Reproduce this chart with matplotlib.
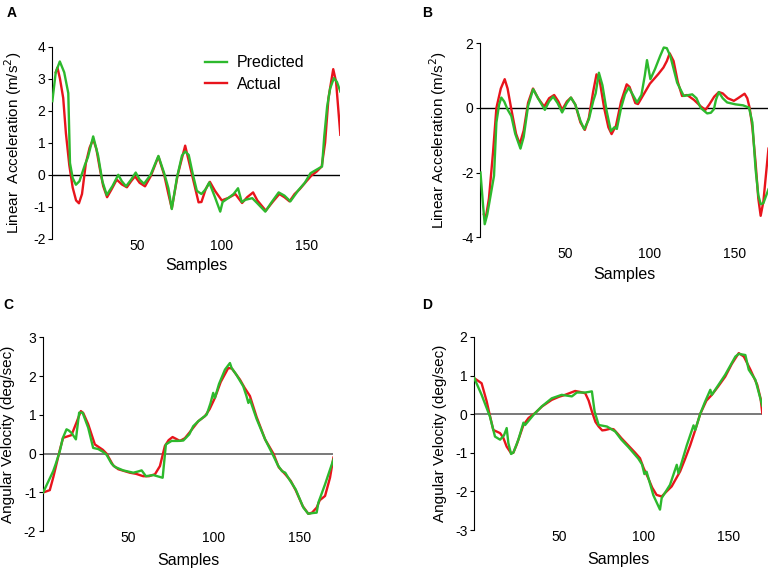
import matplotlib
matplotlib.use('Agg')
import matplotlib.pyplot as plt

plt.rcParams['font.family'] = ['Liberation Sans', 'DejaVu Sans']
plt.rcParams['axes.unicode_minus'] = False

# Panel A - linear acceleration, first trial
a_act_x = [2, 3, 4.5, 6.4, 8, 10, 12, 14, 15.7, 17.5, 19.8, 22, 24.1, 26, 28, 30, 32.3, 35, 38, 41, 44,
           46.5, 48.8, 51.5, 54.7, 58, 62.6, 66, 68.5, 70.5, 74, 78.4, 82, 86.3, 88, 90.5, 93, 96, 100,
           104, 108, 112, 115, 118.5, 121, 126, 130, 134, 137, 140, 143, 146, 150, 153, 156, 159, 161,
           163, 165.8, 167.5, 170]
a_act_y = [3.2, 3.35, 3.0, 2.4, 1.3, 0.3, -0.4, -0.8, -0.89, -0.6, 0.37, 0.85, 1.11, 0.8, 0.2, -0.35,
           -0.7, -0.45, -0.15, -0.3, -0.39, -0.2, -0.05, -0.25, -0.36, -0.05, 0.57, 0.0, -0.6, -1.05, 0.0,
           0.91, 0.1, -0.86, -0.85, -0.45, -0.22, -0.5, -0.8, -0.72, -0.6, -0.88, -0.7, -0.55, -0.8,
           -1.12, -0.85, -0.6, -0.7, -0.83, -0.6, -0.45, -0.2, -0.02, 0.1, 0.26, 1.0, 2.4, 3.3, 2.9, 1.25]
a_pred_x = [0, 2, 4.4, 7, 9.4, 10.4, 12, 13.9, 16, 19.2, 21, 24.1, 27, 29.5, 32.1, 35.5, 38.9, 41, 43.5,
            46.5, 49.2, 51.5, 54.1, 58, 62.6, 66, 68.5, 70.5, 73.5, 76.5, 78.4, 80.5, 83, 85.3, 88, 90.5,
            92.6, 96, 99.1, 100.5, 104, 107, 109.6, 111.8, 114, 118, 121, 125.7, 129.5, 133.6, 137,
            140.5, 145.4, 149, 152.4, 155.3, 159.2, 160.5, 162.2, 164, 166.2, 168, 170]
a_pred_y = [2.3, 3.2, 3.54, 3.2, 2.55, 0.37, -0.1, -0.31, -0.2, 0.31, 0.55, 1.2, 0.6, -0.2, -0.63,
            -0.35, 0.0, -0.2, -0.36, -0.15, 0.07, -0.15, -0.28, 0.0, 0.59, 0.05, -0.42, -1.07, -0.1, 0.6,
            0.73, 0.62, 0.0, -0.5, -0.6, -0.45, -0.24, -0.7, -1.15, -0.85, -0.72, -0.6, -0.42, -0.85,
            -0.78, -0.73, -0.89, -1.15, -0.85, -0.55, -0.65, -0.83, -0.47, -0.25, 0.05, 0.14, 0.26, 1.2,
            2.13, 2.7, 3.02, 2.9, 2.6]

# Panel B - linear acceleration, second trial
b_act_x = [2, 3, 5, 7.4, 9.4, 12, 14.3, 16, 18.2, 21, 23.2, 25.5, 28.1, 31, 34, 37.6, 40.5, 43.5, 46,
           48.2, 51, 53.4, 56, 59, 61.6, 64, 66.5, 68.5, 70.5, 73, 75.5, 77.4, 80, 83, 86.3, 88, 91.4,
           93, 95, 100, 105, 108, 110, 111.7, 114, 116.5, 119, 122, 126, 130, 132.8, 135, 138, 140.7,
           143, 146, 149.6, 152, 155.9, 157.5, 158.9, 160.5, 162.4, 164, 165.4, 167, 170]
b_act_y = [-3.3, -3.45, -2.8, -1.38, 0.0, 0.6, 0.89, 0.6, -0.04, -0.8, -1.12, -0.7, 0.16, 0.6, 0.3,
           0.04, 0.3, 0.4, 0.2, -0.06, 0.2, 0.32, 0.1, -0.45, -0.68, -0.3, 0.5, 1.04, 0.8, 0.0, -0.6,
           -0.81, -0.55, 0.2, 0.73, 0.65, 0.15, 0.12, 0.3, 0.75, 1.05, 1.25, 1.45, 1.69, 1.45, 0.8, 0.37,
           0.4, 0.25, 0.05, -0.06, 0.1, 0.35, 0.49, 0.45, 0.3, 0.22, 0.3, 0.44, 0.3, 0.0, -0.6, -1.7,
           -2.8, -3.34, -2.9, -1.26]
b_pred_x = [0, 1.5, 2.5, 4, 6, 8, 9.4, 11, 12.3, 14, 16, 18.2, 20.5, 23.6, 25.5, 28.1, 31.1, 34, 38,
            40.5, 42.9, 45.5, 48.2, 51, 53.4, 56, 59, 61.2, 64, 66.6, 68, 69.9, 72, 74.5, 77, 79, 80.5,
            83, 85.3, 87.5, 90, 92.4, 95, 97, 98.3, 100.3, 103, 106, 108.2, 110, 112.1, 116.1, 120, 123,
            125, 127.5, 130, 133.8, 136, 137.8, 139, 140.7, 143, 145.6, 150.6, 155, 158.5, 160.5, 162.4,
            164, 165.4, 167, 170]
b_pred_y = [-2.0, -3.0, -3.6, -3.3, -2.7, -2.1, -0.45, 0.1, 0.32, 0.2, -0.05, -0.25, -0.8, -1.26, -0.9,
            0.06, 0.58, 0.3, -0.06, 0.2, 0.35, 0.15, -0.14, 0.15, 0.32, 0.1, -0.4, -0.66, -0.35, 0.22,
            0.45, 1.09, 0.7, -0.1, -0.72, -0.6, -0.65, 0.0, 0.42, 0.63, 0.4, 0.17, 0.4, 1.0, 1.48, 0.89,
            1.2, 1.6, 1.87, 1.85, 1.6, 0.78, 0.37, 0.4, 0.42, 0.3, 0.0, -0.17, -0.15, -0.04, 0.25, 0.49,
            0.3, 0.17, 0.11, 0.08, 0.01, -0.45, -1.9, -2.7, -2.98, -2.95, -2.52]

# Panel C - angular velocity, first trial
c_act_x = [0, 3.9, 6, 7.8, 9.8, 11.7, 16.6, 19.5, 22.1, 23.5, 26.4, 30.3, 35, 37.2, 41, 44, 50.8, 54.5,
           58.6, 62, 65.5, 68.4, 71.3, 73.5, 75.8, 78, 80.1, 83, 85.6, 90.9, 94.8, 97.5, 100.6, 104,
           108.4, 110.5, 115.3, 118, 121.1, 125, 130, 134.9, 138, 141.8, 145, 148, 152, 155.3, 157.5,
           160.2, 162, 165.1, 168, 170]
c_act_y = [-1.0, -0.94, -0.6, -0.27, 0.1, 0.41, 0.48, 0.8, 1.1, 1.05, 0.76, 0.24, 0.1, 0.0, -0.3, -0.4,
           -0.49, -0.52, -0.58, -0.58, -0.53, -0.32, 0.2, 0.35, 0.43, 0.38, 0.33, 0.4, 0.54, 0.84, 0.97,
           1.15, 1.44, 1.85, 2.21, 2.2, 1.91, 1.7, 1.49, 0.95, 0.37, 0.0, -0.35, -0.53, -0.7, -0.95,
           -1.35, -1.55, -1.52, -1.39, -1.2, -1.09, -0.62, -0.1]
c_pred_x = [0, 3, 5.9, 7.5, 9.8, 11.5, 13.7, 15, 16.6, 19.2, 21.1, 23.1, 26.4, 29.3, 32.3, 35, 37.2, 40,
            42, 46.9, 52.8, 55.5, 57.7, 60.2, 64.5, 70, 71.9, 75.2, 79, 82.1, 85.6, 87.9, 90.9, 95.8, 98,
            99.6, 100.6, 103, 106.5, 109.4, 110.4, 113, 117.2, 119, 120.2, 121.1, 125, 130, 134.9, 137.5,
            139.9, 141.8, 144, 147.9, 152.4, 155.3, 158, 160.2, 161.2, 165.1, 170]
c_pred_y = [-1.0, -0.72, -0.45, -0.25, 0.07, 0.4, 0.63, 0.6, 0.54, 0.37, 1.06, 1.06, 0.67, 0.15, 0.12,
            0.05, -0.03, -0.25, -0.34, -0.43, -0.49, -0.46, -0.43, -0.58, -0.55, -0.62, 0.24, 0.33, 0.33,
            0.34, 0.5, 0.71, 0.84, 1.01, 1.3, 1.57, 1.44, 1.8, 2.17, 2.34, 2.21, 2.05, 1.74, 1.5, 1.31,
            1.4, 0.9, 0.37, -0.06, -0.3, -0.45, -0.49, -0.65, -0.92, -1.39, -1.55, -1.53, -1.52, -1.26,
            -0.79, -0.15]

# Panel D - angular velocity, second trial
d_act_x = [0, 4.3, 7.3, 9, 11.2, 15.2, 17, 19.1, 21.7, 23, 25, 29, 32, 35.9, 40, 45.7, 50, 53.6, 59.5,
           63, 65.5, 67.5, 69.4, 71.5, 73.4, 75.5, 77.3, 80, 82.2, 84.5, 86.8, 90.9, 95, 97.8, 100,
           102.7, 105, 107.6, 110.6, 113.5, 116.5, 121.5, 124.5, 127.4, 130.5, 133.3, 137, 140.2, 144,
           148.1, 152, 156.1, 159.1, 163, 167, 169, 170]
d_act_y = [0.93, 0.8, 0.33, 0.0, -0.41, -0.49, -0.6, -0.84, -1.01, -1.0, -0.79, -0.28, -0.1, 0.03, 0.2,
           0.37, 0.45, 0.5, 0.6, 0.57, 0.54, 0.35, 0.07, -0.2, -0.32, -0.42, -0.41, -0.38, -0.39, -0.5,
           -0.62, -0.81, -1.0, -1.14, -1.4, -1.66, -1.9, -2.09, -2.13, -2.0, -1.87, -1.48, -1.15, -0.81,
           -0.4, 0.0, 0.35, 0.5, 0.72, 0.97, 1.3, 1.58, 1.49, 1.15, 0.76, 0.4, 0.03]
d_pred_x = [0, 4.3, 9.2, 12.2, 15.2, 17.5, 19.1, 20.1, 21.7, 23.1, 26, 29, 30, 34.9, 39.8, 45.7, 51.6,
            57.6, 60.5, 65.5, 69.4, 71, 73.4, 78.3, 83.2, 86.8, 90.9, 96.8, 99, 100.4, 101.7, 105.7,
            109.6, 110.6, 115.5, 119.5, 120.5, 125.4, 129.4, 130.4, 133.3, 136, 139.3, 140.2, 144, 148.1,
            154.1, 156.1, 160, 162, 165.9, 170]
d_pred_y = [0.93, 0.5, -0.06, -0.58, -0.66, -0.55, -0.36, -0.75, -1.03, -0.99, -0.66, -0.22, -0.28,
            -0.02, 0.2, 0.41, 0.5, 0.46, 0.56, 0.56, 0.59, 0.07, -0.28, -0.32, -0.45, -0.66, -0.85, -1.15,
            -1.3, -1.55, -1.49, -2.1, -2.47, -2.17, -1.83, -1.31, -1.53, -0.81, -0.29, -0.41, 0.0, 0.3,
            0.63, 0.5, 0.75, 1.02, 1.49, 1.56, 1.53, 1.15, 0.89, 0.22]

x_ticks = [50, 100, 150]
RED = '#e8141c'
GREEN = '#2db92d'


def panel(fig, rect, letter, letter_xy, act_x, act_y, pred_x, pred_y, ylim, yticks, ylabel,
          zero_color, xpad, xlab_y, ylab_x):
    ax = fig.add_axes(rect)
    ax.axhline(0, color=zero_color, lw=1.3 if zero_color != 'black' else 1.0, zorder=1)
    ax.plot(act_x, act_y, color=RED, lw=1.7, label='Actual', zorder=2)
    ax.plot(pred_x, pred_y, color=GREEN, lw=1.7, label='Predicted', zorder=3)
    ax.set_xlim(0, 170)
    ax.set_ylim(*ylim)
    ax.set_yticks(yticks)
    ax.set_xticks(x_ticks)
    for s in ['top', 'right', 'bottom']:
        ax.spines[s].set_visible(False)
    ax.spines['left'].set_linewidth(0.8)
    ax.tick_params(axis='y', length=3, width=0.8, pad=2, labelsize=10)
    ax.tick_params(axis='x', length=0, pad=xpad, labelsize=10)
    ax.set_xlabel('Samples', fontsize=11.5)
    ax.xaxis.set_label_coords(0.5, xlab_y)
    ax.set_ylabel(ylabel, fontsize=11)
    ax.yaxis.set_label_coords(ylab_x, 0.5)
    fig.text(letter_xy[0], letter_xy[1], letter, fontsize=10, fontweight='bold', va='center')
    return ax


def render():
    fig = plt.figure(figsize=(7.7, 5.7), dpi=100)

    ax_a = panel(fig, [0.068, 0.581, 0.374, 0.337], 'A', (0.008, 0.978),
                 a_act_x, a_act_y, a_pred_x, a_pred_y, (-2, 4), range(-2, 5),
                 'Linear  Acceleration (m/s$^2$)', 'black', 0, -0.099, -0.099)
    panel(fig, [0.624, 0.584, 0.374, 0.340], 'B', (0.548, 0.978),
          b_act_x, b_act_y, b_pred_x, b_pred_y, (-4, 2), [-4, -2, 0, 2],
          'Linear Acceleration (m/s$^2$)', 'black', 7, -0.155, -0.109)
    panel(fig, [0.056, 0.068, 0.377, 0.340], 'C', (0.004, 0.465),
          c_act_x, c_act_y, c_pred_x, c_pred_y, (-2, 3), range(-2, 4),
          'Angular Velocity (deg/sec)', '#6e6e6e', 0, -0.114, -0.097)
    panel(fig, [0.616, 0.070, 0.374, 0.339], 'D', (0.548, 0.465),
          d_act_x, d_act_y, d_pred_x, d_pred_y, (-3, 2), range(-3, 3),
          'Angular Velocity (deg/sec)', '#6e6e6e', 0, -0.113, -0.096)

    handles, labels = ax_a.get_legend_handles_labels()
    ax_a.legend(handles[::-1], labels[::-1], loc='upper left', bbox_to_anchor=(0.48, 1.03),
                frameon=False, fontsize=11.5, handlelength=1.4, handletextpad=0.6,
                labelspacing=0.4)

    fig.savefig('out.png', dpi=100)


def main():
    render()


if __name__ == '__main__':
    main()
